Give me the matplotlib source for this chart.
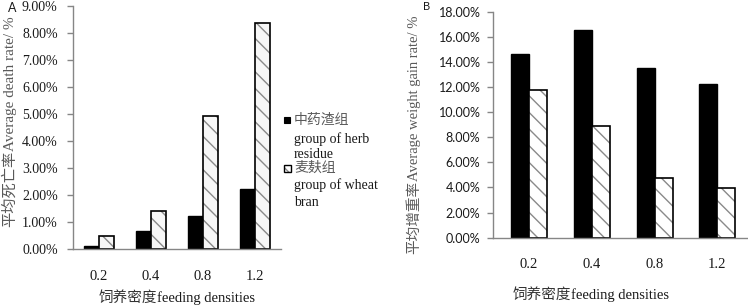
import matplotlib
matplotlib.use("Agg")
import matplotlib.pyplot as plt
from matplotlib.patches import Rectangle
from matplotlib.ticker import FuncFormatter, MultipleLocator
import numpy as np

# ---- data ----
densities = ["0.2", "0.4", "0.8", "1.2"]
death_herb = [0.12, 0.68, 1.21, 2.23]      # %
death_wheat = [0.49, 1.42, 4.93, 8.36]     # %
gain_herb = [14.63, 16.55, 13.49, 12.22]   # %
gain_wheat = [11.77, 8.90, 4.73, 3.93]     # %

SERIF = ["Liberation Serif", "DejaVu Serif"]
CJK = ["Noto Sans CJK SC", "DejaVu Sans"]
SANS = ["Lato", "DejaVu Sans"]
AX_GRAY = "#868686"
LBL_GRAY = "#595959"
DARK = "#1a1a1a"

W, H = 748, 307
fig = plt.figure(figsize=(W / 100, H / 100), dpi=100)
renderer = fig.canvas.get_renderer()


def fx(x):
    return x / W


def fy(y):
    return 1 - y / H


def pct(v, pos):
    return f"{v:.2f}%"


def mixed_text(center, base, parts, size, vertical=False):
    """Place a run of text pieces (each in its own font) on a common baseline."""
    objs = []
    lengths = []
    for txt, fam, col in parts:
        t = fig.text(0, 0, txt, family=fam, fontsize=size, color=col,
                     rotation=90 if vertical else 0, rotation_mode="anchor",
                     ha="left", va="baseline")
        bb = t.get_window_extent(renderer)
        lengths.append(bb.height if vertical else bb.width)
        objs.append(t)
    total = sum(lengths)
    if vertical:
        pos = center + total / 2
        for t, L in zip(objs, lengths):
            t.set_position((fx(base), fy(pos)))
            pos -= L
    else:
        pos = center - total / 2
        for t, L in zip(objs, lengths):
            t.set_position((fx(pos), fy(base)))
            pos += L


def style_axes(ax):
    for s in ("top", "right"):
        ax.spines[s].set_visible(False)
    for s in ("left", "bottom"):
        ax.spines[s].set_color(AX_GRAY)
        ax.spines[s].set_linewidth(1.0)
    ax.yaxis.set_major_formatter(FuncFormatter(pct))
    ax.tick_params(axis="y", length=4, width=1.0, color=AX_GRAY, direction="out")
    ax.tick_params(axis="x", length=0)
    ax.patch.set_alpha(0)


def draw_bars(ax, herb, wheat, w, wheat_fill):
    x = np.arange(len(densities))
    ax.bar(x - w / 2, herb, width=w, color="black", edgecolor="black", linewidth=1.0)
    ax.bar(x + w / 2, wheat, width=w, color=wheat_fill, edgecolor="#8a8a8a",
           hatch="\\\\", linewidth=0)
    ax.bar(x + w / 2, wheat, width=w, facecolor="none", edgecolor="black", linewidth=1.2)
    ax.set_xticks(x)
    ax.set_xticklabels(densities)


# ---- Panel A ----
axA = fig.add_axes([fx(73), fy(249), fx(281) - fx(73), fy(6) - fy(249)])
style_axes(axA)
draw_bars(axA, death_herb, death_wheat, 0.29, "#f7f7f7")
axA.set_xlim(-0.5, 3.5)
axA.set_ylim(0, 9)
axA.yaxis.set_major_locator(MultipleLocator(1))
for t in axA.get_yticklabels():
    t.set_fontfamily(SERIF)
    t.set_fontsize(10)
    t.set_color(DARK)
axA.tick_params(axis="y", pad=7)
for t in axA.get_xticklabels():
    t.set_fontfamily(SERIF)
    t.set_fontsize(10.5)
    t.set_color(DARK)
axA.tick_params(axis="x", pad=15)

mixed_text(122, 14, [("平均死亡率", CJK, LBL_GRAY),
                     ("Average death rate/ %", SERIF, LBL_GRAY)], 11, vertical=True)
mixed_text(177, 302, [("饲养密度", CJK, "#333333"),
                      ("feeding densities", SERIF, DARK)], 10.5)
fig.text(fx(12), fy(8), "A", ha="center", va="center", family=SANS, fontsize=9,
         color=DARK)

# legend (in panel A area)
fig.add_artist(Rectangle((fx(284), fy(123)), fx(6), 6 / H, transform=fig.transFigure,
                         facecolor="black", edgecolor="black", linewidth=0.8))
fig.add_artist(Rectangle((fx(283.5), fy(171.5)), fx(7), 7 / H, transform=fig.transFigure,
                         facecolor="white", edgecolor="#8a8a8a", hatch="\\\\", linewidth=0))
fig.add_artist(Rectangle((fx(283.5), fy(171.5)), fx(7), 7 / H, transform=fig.transFigure,
                         facecolor="none", edgecolor="black", linewidth=1.0))
leg_lines = [
    ("中药渣组", 120, LBL_GRAY, CJK),
    ("group of herb", 139, DARK, SERIF),
    ("residue", 154, DARK, SERIF),
    ("麦麸组", 168, LBL_GRAY, CJK),
    ("group of wheat", 185, DARK, SERIF),
    ("bran", 202, DARK, SERIF),
]
for txt, yy, col, fam in leg_lines:
    fig.text(fx(294), fy(yy), txt, ha="left", va="center", family=fam,
             fontsize=10, color=col)

# ---- Panel B ----
axB = fig.add_axes([fx(493), fy(237.7), fx(748) - fx(493), fy(11.7) - fy(237.7)])
style_axes(axB)
draw_bars(axB, gain_herb, gain_wheat, 0.287, "white")
axB.set_xlim(-0.574, 3.49)
axB.set_ylim(0, 18)
axB.yaxis.set_major_locator(MultipleLocator(2))
for t in axB.get_yticklabels():
    t.set_fontfamily(SANS)
    t.set_fontsize(9)
    t.set_color(DARK)
axB.tick_params(axis="y", pad=5)
for t in axB.get_xticklabels():
    t.set_fontfamily(SERIF)
    t.set_fontsize(10.5)
    t.set_color(DARK)
axB.tick_params(axis="x", pad=14.5)

mixed_text(135, 418, [("平均增重率", CJK, LBL_GRAY),
                      ("Average weight gain rate/ %", SERIF, LBL_GRAY)], 10.5,
           vertical=True)
mixed_text(591, 299, [("饲养密度", CJK, "#333333"),
                      ("feeding densities", SERIF, DARK)], 10.5)
fig.text(fx(427), fy(7), "B", ha="center", va="center", family=SANS, fontsize=8,
         color=DARK)

fig.savefig("out.png", dpi=100, facecolor="white")
